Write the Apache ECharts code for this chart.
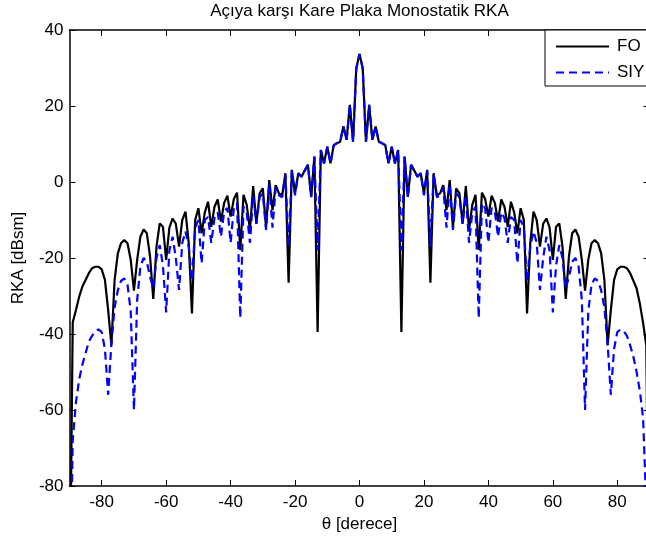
<!DOCTYPE html>
<html>
<head>
<meta charset="utf-8">
<script src="https://cdn.jsdelivr.net/npm/echarts@6/dist/echarts.min.js"></script>
<style>
html,body{margin:0;padding:0;background:#fff;}
#chart{width:646px;height:540px;}
</style>
</head>
<body>
<div id="chart"></div>
<script>
const titleText = 'Açıya karşı Kare Plaka Monostatik RKA';
const xLabel = 'θ [derece]';
const yLabel = 'RKA [dBsm]';
const seriesNames = ['FO', 'SIY'];
const xTicks = [-80, -60, -40, -20, 0, 20, 40, 60, 80];

const theta = [
-90,-89,-88,-87,-86,-85,-84,-83,-82,-81,-80,-79,-78,-77,-76,-75,-74,-73,-72,-71,
-70,-69,-68,-67,-66,-65,-64,-63,-62,-61,-60,-59,-58,-57,-56,-55,-54,-53,-52,-51,
-50,-49,-48,-47,-46,-45,-44,-43,-42,-41,-40,-39,-38,-37,-36,-35,-34,-33,-32,-31,
-30,-29,-28,-27,-26,-25,-24,-23,-22,-21,-20,-19,-18,-17,-16,-15,-14,-13,-12,-11,
-10,-9,-8,-7,-6,-5,-4,-3,-2,-1,0,1,2,3,4,5,6,7,8,9,
10,11,12,13,14,15,16,17,18,19,20,21,22,23,24,25,26,27,28,29,
30,31,32,33,34,35,36,37,38,39,40,41,42,43,44,45,46,47,48,49,
50,51,52,53,54,55,56,57,58,59,60,61,62,63,64,65,66,67,68,69,
70,71,72,73,74,75,76,77,78,79,80,81,82,83,84,85,86,87,88,89,90
];

const fo = [
-120,-37,-33.7,-30.2,-27.5,-25.8,-24,-22.7,-22.3,-22.3,-23,-25.8,-33.7,-43,-25.8,-18.8,-16.1,-15.3,-16.1,-20.5,
-28.6,-20.5,-14.4,-12.5,-13.5,-19.6,-30.8,-17,-10.9,-11.8,-20.5,-12,-9.6,-11,-17,-10,-7.8,-16,-34.6,-10,
-6.9,-13.5,-8,-5.2,-11.8,-6.5,-4.6,-10.4,-5.5,-3.6,-9.1,-4.5,-2.8,-17.9,-3.4,-6,-12.6,-1.1,-10.9,-3,
-1.7,-12,0.5,-7.4,-0.8,-3,-3.5,2.3,-26.5,3.2,-3,2.3,1.4,3,4.5,-3.9,6.7,-39.5,8.4,4.9,
9.3,4.9,9.7,10.2,10.6,14.6,11.1,20.3,10.6,29.9,33.7,29.9,10.6,20.3,11.1,14.6,10.6,10.2,9.7,4.9,
9.3,4.9,8.4,-39.5,6.7,-3.9,4.5,3,1.4,2.3,-3,3.2,-26.5,2.3,-3.5,-3,-0.8,-7.4,0.5,-12,
-1.7,-3,-10.9,-1.1,-12.6,-6,-3.4,-17.9,-2.8,-4.5,-9.1,-3.6,-5.5,-10.4,-4.6,-6.5,-11.8,-5.2,-8,-13.5,
-6.9,-10,-34.6,-16,-7.8,-10,-17,-11,-9.6,-12,-20.5,-11.8,-10.9,-17,-30.8,-19.6,-13.5,-12.5,-14.4,-20.5,
-28.6,-20.5,-16.1,-15.3,-16.1,-18.8,-25.8,-43,-33.7,-25.8,-23,-22.3,-22.3,-22.7,-24,-26,-28,-32,-37,-43,-120
];

const siy = [
-120,-68,-58,-52,-48,-45,-42,-40.5,-39.3,-38.8,-39.5,-44,-56,-42.5,-33,-28.5,-26,-25.4,-27,-34,
-60,-31,-22.3,-20,-21,-25,-28,-20,-16.6,-22,-34.3,-18,-14.4,-20,-28.4,-16,-13,-17,-26,-12,
-10,-21.4,-10,-9.2,-16,-9.5,-8,-14.4,-7.8,-6.8,-16,-6.9,-5.6,-35.8,-6.5,-8,-16,-3.5,-11,-4,
-3,-12.6,-0.5,-12,-1.5,-3.5,-4,2,-17,3,-3.5,2.3,1.4,3,4.5,-4,6.7,-18,8.4,4.9,
9.3,4.9,9.7,10.2,10.6,14.6,11.1,20.3,10.6,29.9,33.7,29.9,10.6,20.3,11.1,14.6,10.6,10.2,9.7,4.9,
9.3,4.9,8.4,-18,6.7,-4,4.5,3,1.4,2.3,-3.5,3,-17,2,-4,-3.5,-1.5,-12,-0.5,-12.6,
-3,-4,-11,-3.5,-16,-8,-6.5,-35.8,-5.6,-6.9,-16,-6.8,-7.8,-14.4,-8,-9.5,-16,-9.2,-10,-21.4,
-10,-12,-26,-17,-13,-16,-28.4,-20,-14.4,-18,-34.3,-22,-16.6,-20,-28,-25,-21,-20,-22.3,-31,
-60,-34,-27,-25.4,-26,-28.5,-33,-42.5,-56,-44,-39.5,-38.8,-39.3,-40.5,-43,-46,-50,-55,-62,-85,-120
];

const FONT = '"Liberation Sans", Arial, Helvetica, sans-serif';
const chart = echarts.init(document.getElementById('chart'), null, {renderer: 'canvas'});

function pairs(ys) { return theta.map((t, i) => [t, ys[i]]); }

const axisLineStyle = {color: '#000', width: 1.5};
const option = {
  animation: false,
  backgroundColor: '#fff',
  grid: {left: 69.5, top: 30, width: 580, height: 456, containLabel: false, outerBoundsMode: 'none'},
  graphic: [{
    type: 'text', x: 359.5, y: 11, z: 100,
    style: {text: titleText, font: '17px ' + FONT, fill: '#000', align: 'center', verticalAlign: 'middle'}
  }],
  legend: {
    orient: 'vertical', left: 545, top: 30,
    padding: [8, 30, 5, 10],
    itemWidth: 53, itemHeight: 16, itemGap: 9,
    borderColor: '#000', borderWidth: 1, backgroundColor: '#fff',
    itemStyle: {opacity: 0},
    textStyle: {fontFamily: FONT, fontSize: 17, color: '#000', lineHeight: 16, padding: [0, 0, 0, 3]},
    data: seriesNames
  },
  xAxis: [{
    type: 'value', min: -90, max: 90, position: 'bottom',
    axisLine: {show: true, onZero: false, lineStyle: axisLineStyle},
    axisTick: {show: true, inside: true, length: 6, customValues: xTicks, lineStyle: {color: '#000', width: 1}},
    axisLabel: {show: true, customValues: xTicks, margin: 8, fontFamily: FONT, fontSize: 17, color: '#000'},
    splitLine: {show: false},
    name: xLabel, nameLocation: 'middle', nameGap: 27,
    nameTextStyle: {fontFamily: FONT, fontSize: 17, color: '#000'}
  }, {
    type: 'value', min: -90, max: 90, position: 'top',
    axisLine: {show: true, onZero: false, lineStyle: axisLineStyle},
    axisTick: {show: true, inside: true, length: 6, customValues: xTicks, lineStyle: {color: '#000', width: 1}},
    axisLabel: {show: false}, splitLine: {show: false}
  }],
  yAxis: [{
    type: 'value', min: -80, max: 40, interval: 20, position: 'left',
    axisLine: {show: true, onZero: false, lineStyle: axisLineStyle},
    axisTick: {show: true, inside: true, length: 6, lineStyle: {color: '#000', width: 1}},
    axisLabel: {show: true, margin: 6, fontFamily: FONT, fontSize: 17, color: '#000'},
    splitLine: {show: false},
    name: yLabel, nameLocation: 'middle', nameGap: 43,
    nameTextStyle: {fontFamily: FONT, fontSize: 17, color: '#000'}
  }, {
    type: 'value', min: -80, max: 40, interval: 20, position: 'right',
    axisLine: {show: true, onZero: false, lineStyle: axisLineStyle},
    axisTick: {show: true, inside: true, length: 6, lineStyle: {color: '#000', width: 1}},
    axisLabel: {show: false}, splitLine: {show: false}
  }],
  series: [{
    name: seriesNames[0], type: 'line', data: pairs(fo), symbol: 'none', clip: true,
    lineStyle: {color: '#000', width: 2.2}, itemStyle: {color: '#000'}, z: 2
  }, {
    name: seriesNames[1], type: 'line', data: pairs(siy), symbol: 'none', clip: true,
    lineStyle: {color: '#0000ff', width: 2.2, type: [8, 5]}, itemStyle: {color: '#0000ff'}, z: 3
  }]
};
chart.setOption(option);
</script>
</body>
</html>
